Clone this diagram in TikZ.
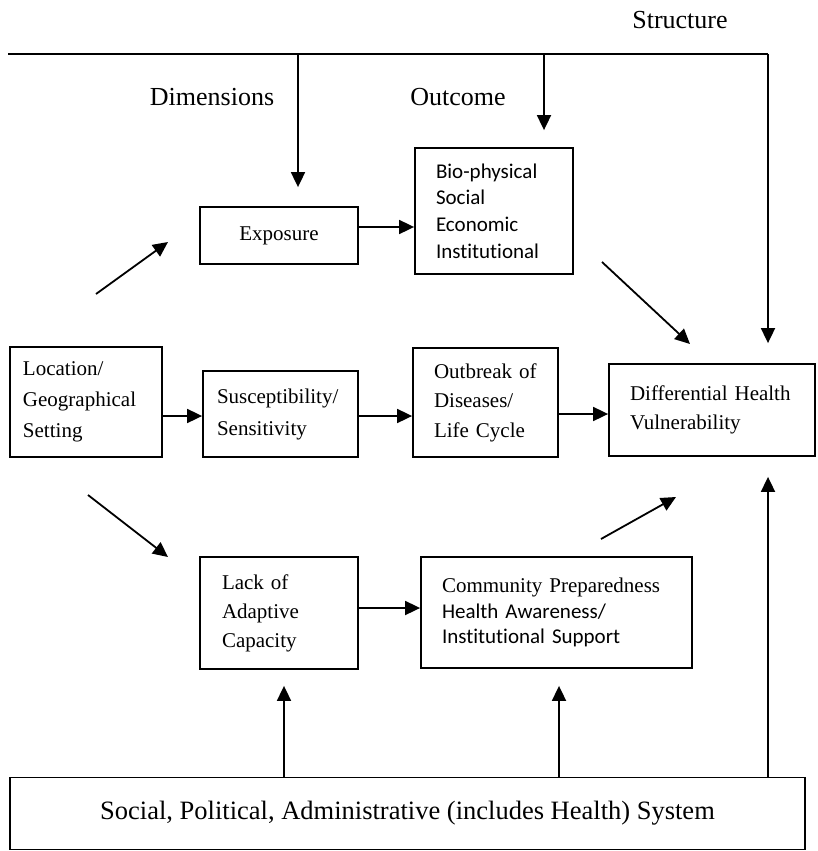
\documentclass[tikz,border=0pt]{standalone}
\usepackage{fontspec}
\setmainfont{Liberation Serif}
\newfontfamily\calfont[Ligatures=NoCommon]{Carlito}
\usetikzlibrary{arrows.meta}
\begin{document}
\begin{tikzpicture}[x=1pt,y=-1pt,
  box/.style={draw, line width=1.8pt, rectangle, inner ysep=0pt, align=left},
  arr/.style={line width=1.8pt, -{Triangle[length=15pt,width=14pt]}},
  plain/.style={line width=1.8pt},
  lbl/.style={font=\fontsize{26}{30}\selectfont, inner sep=0pt}]
\useasboundingbox (0,0) rectangle (817,851);

% labels
\node[lbl] (structure) at (680,20) {Structure};
\node[lbl] (dims) at (212,97) {Dimensions};
\node[lbl] (outc) at (458,97) {Outcome};

% boxes
\node[box, align=center, minimum width=158pt, minimum height=57pt,
      font=\fontsize{21}{29}\selectfont] (expo) at (279,235.5) {Exposure};
\node[box, minimum width=158pt, minimum height=126pt, inner xsep=21pt, text width=116pt,
      font=\calfont\fontsize{21}{26.7}\selectfont] (bio) at (494,211)
      {Bio-physical\\Social\\Economic\\Institutional};
\node[box, minimum width=152pt, minimum height=110pt, inner xsep=13pt, text width=126pt,
      font=\fontsize{21}{31}\selectfont] (loc) at (86,402)
      {Location/\\Geographical\\Setting};
\node[box, minimum width=155pt, minimum height=86pt, inner xsep=14pt, text width=127pt,
      font=\fontsize{21}{32}\selectfont] (sus) at (280.5,414)
      {Susceptibility/\\Sensitivity};
\node[box, minimum width=145pt, minimum height=109pt, inner xsep=21pt, text width=103pt,
      font=\fontsize{21}{29.5}\selectfont] (outb) at (485.5,402.5)
      {Outbreak of\\Diseases/\\Life Cycle};
\node[box, minimum width=206pt, minimum height=92pt, inner xsep=21pt, text width=164pt,
      font=\fontsize{21}{29}\selectfont] (diff) at (712,410)
      {Differential Health\\Vulnerability};
\node[box, minimum width=158pt, minimum height=112pt, inner xsep=22pt, text width=114pt,
      font=\fontsize{21}{29}\selectfont] (lack) at (279,613)
      {Lack of\\Adaptive\\Capacity};
\node[box, minimum width=271pt, minimum height=111pt, inner xsep=21pt, text width=229pt,
      font=\fontsize{21}{25.5}\selectfont] (comm) at (556.5,612.5)
      {Community Preparedness\\{\calfont Health Awareness/}\\{\calfont Institutional Support}};
\node[box, align=center, minimum width=795pt, minimum height=72pt,
      font=\fontsize{26.5}{30}\selectfont] (sys) at (407.5,813.5)
      {Social, Political, Administrative (includes Health) System};

% named coordinates
\coordinate (tl) at (8,54);
\coordinate (a1) at (298,54);
\coordinate (a2) at (544,54);
\coordinate (tr) at (768,54);
\coordinate (b1) at (284,0);
\coordinate (b2) at (559,0);
\coordinate (d1s) at (96,294);
\coordinate (d1e) at (168,242);
\coordinate (d2s) at (602,262);
\coordinate (d2e) at (690,344);
\coordinate (d3s) at (88,495);
\coordinate (d3e) at (168,557);
\coordinate (d4s) at (601,539);
\coordinate (d4e) at (676,497);

% structure line and top arrows
\draw[plain] (tl) -- (tr);
\draw[arr, shorten >=20pt] (tr) -- (tr |- diff.north);
\draw[arr, shorten >=19pt] (a1) -- (a1 |- expo.north);
\draw[arr, shorten >=17pt] (a2) -- (a2 |- bio.north);

% horizontal arrows
\draw[arr] (expo.east |- 0,227) -- (bio.west |- 0,227);
\draw[arr] (loc.east |- 0,416) -- (sus.west |- 0,416);
\draw[arr] (sus.east |- 0,416) -- (outb.west |- 0,416);
\draw[arr] (outb.east |- 0,414) -- (diff.west |- 0,414);
\draw[arr] (lack.east |- 0,608) -- (comm.west |- 0,608);

% diagonal arrows
\draw[arr] (d1s) -- (d1e);
\draw[arr] (d2s) -- (d2e);
\draw[arr] (d3s) -- (d3e);
\draw[arr] (d4s) -- (d4e);

% arrows from the system box
\draw[arr, shorten >=16pt] (b1 |- sys.north) -- (b1 |- lack.south);
\draw[arr, shorten >=17pt] (b2 |- sys.north) -- (b2 |- comm.south);
\draw[arr, shorten >=20pt] (tr |- sys.north) -- (tr |- diff.south);
\end{tikzpicture}
\end{document}
